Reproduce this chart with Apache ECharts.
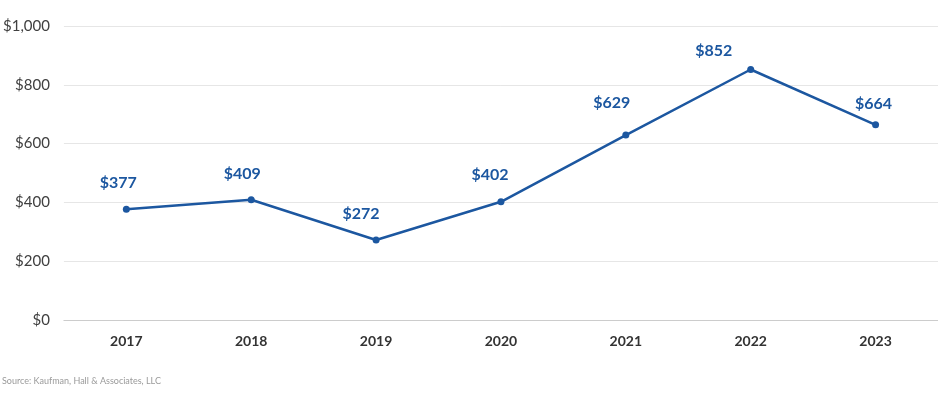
<!DOCTYPE html>
<html>
<head>
<meta charset="utf-8">
<script src="https://cdn.jsdelivr.net/npm/echarts@6/dist/echarts.min.js"></script>
<style>
  html, body { margin: 0; padding: 0; background: #fff; }
  #main { width: 938px; height: 397px; }
</style>
</head>
<body>
<div id="main"></div>
<script>
const years = ['2017', '2018', '2019', '2020', '2021', '2022', '2023']
const values = [377, 409, 272, 402, 629, 852, 664]
const sourceText = 'Source: Kaufman, Hall & Associates, LLC'
// label nudges, as placed in the original
const labelOffsets = [[-8, -26], [-9, -26], [-15, -26], [-11, -27], [-14, -32], [-37, -19], [-2, -21]]

const blue = '#1c57a0'
const chart = echarts.init(document.getElementById('main'))
chart.setOption({
  animation: false,
  textStyle: { fontFamily: 'Lato' },
  grid: { left: 60, right: 0, top: 26, bottom: 77 },
  // footnote
  graphic: [{
    type: 'text',
    left: 2,
    top: 377,
    style: { text: sourceText, fill: '#9a9a9a', fontSize: 9, fontFamily: 'Lato' }
  }],
  xAxis: {
    type: 'category',
    data: years,
    axisLine: { lineStyle: { color: '#cccccc', width: 1 } },
    axisTick: { show: false },
    axisLabel: { color: '#333', fontSize: 14, fontWeight: 'bold', margin: 14 }
  },
  yAxis: {
    type: 'value',
    min: 0,
    max: 1000,
    interval: 200,
    axisLine: { show: false },
    axisTick: { show: false },
    splitLine: { lineStyle: { color: '#e6e6e6', width: 1 } },
    axisLabel: {
      color: '#404040',
      fontSize: 15,
      margin: 14,
      formatter: v => '$' + v.toLocaleString('en-US')
    }
  },
  series: [{
    type: 'line',
    data: values.map((v, i) => ({
      value: v,
      label: { offset: labelOffsets[i] }
    })),
    symbol: 'circle',
    symbolSize: 7,
    lineStyle: { color: blue, width: 2.5 },
    itemStyle: { color: blue },
    label: {
      show: true,
      position: 'inside',
      color: blue,
      fontSize: 16,
      fontWeight: 'bold',
      formatter: p => '$' + p.value
    }
  }]
})
</script>
</body>
</html>
